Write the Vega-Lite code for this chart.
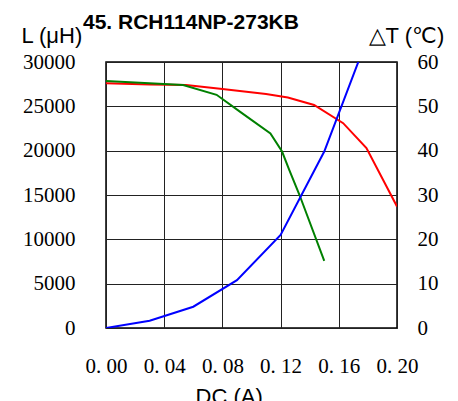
{
  "$schema": "https://vega.github.io/schema/vega-lite/v6.json",
  "width": 291,
  "height": 266,
  "autosize": "none",
  "padding": {"left": 106, "top": 62, "right": 61, "bottom": 73},
  "background": "white",
  "config": {
    "view": {"stroke": "black", "strokeWidth": 1.5},
    "axis": {
      "domain": false,
      "ticks": false,
      "grid": true,
      "gridColor": "#222222",
      "gridWidth": 1,
      "gridOpacity": 1,
      "labelFont": "Liberation Serif",
      "labelFontSize": 21,
      "labelFontWeight": "normal",
      "labelColor": "black",
      "labelOverlap": false,
      "labelFlush": false,
      "titleFont": "Liberation Sans",
      "titleFontSize": 22,
      "titleFontWeight": "normal",
      "titleColor": "black"
    }
  },
  "title": {
    "text": "45. RCH114NP-273KB",
    "font": "Liberation Sans",
    "fontSize": 21,
    "fontWeight": "bold",
    "color": "black",
    "anchor": "start",
    "frame": "group",
    "dx": -23,
    "offset": -9
  },
  "layer": [
    {
      "data": {
        "values": [
          {"dc": 0.0, "L": 27600, "series": "L1"},
          {"dc": 0.03, "L": 27450, "series": "L1"},
          {"dc": 0.055, "L": 27400, "series": "L1"},
          {"dc": 0.08, "L": 26950, "series": "L1"},
          {"dc": 0.11, "L": 26400, "series": "L1"},
          {"dc": 0.125, "L": 26000, "series": "L1"},
          {"dc": 0.143, "L": 25150, "series": "L1"},
          {"dc": 0.163, "L": 23100, "series": "L1"},
          {"dc": 0.179, "L": 20300, "series": "L1"},
          {"dc": 0.2, "L": 13700, "series": "L1"},
          {"dc": 0.0, "L": 27850, "series": "L2"},
          {"dc": 0.053, "L": 27400, "series": "L2"},
          {"dc": 0.076, "L": 26300, "series": "L2"},
          {"dc": 0.092, "L": 24400, "series": "L2"},
          {"dc": 0.113, "L": 21950, "series": "L2"},
          {"dc": 0.121, "L": 19900, "series": "L2"},
          {"dc": 0.126, "L": 17800, "series": "L2"},
          {"dc": 0.133, "L": 15000, "series": "L2"},
          {"dc": 0.15, "L": 7560, "series": "L2"}
        ]
      },
      "mark": {"type": "line", "strokeWidth": 2, "clip": true},
      "encoding": {
        "x": {
          "field": "dc", "type": "quantitative",
          "scale": {"domain": [0, 0.2], "nice": false, "zero": false},
          "axis": {
            "values": [0, 0.04, 0.08, 0.12, 0.16, 0.2],
            "labelExpr": "replace(format(datum.value, '.2f'), '.', '. ')",
            "labelFont": "Liberation Serif",
            "labelOverlap": false,
            "labelFlush": false,
            "labelPadding": 27,
            "title": "DC (A)",
            "titleAlign": "left",
            "titleBaseline": "alphabetic",
            "titleX": 89,
            "titleY": 75
          }
        },
        "y": {
          "field": "L", "type": "quantitative",
          "scale": {"domain": [0, 30000], "nice": false},
          "axis": {
            "values": [0, 5000, 10000, 15000, 20000, 25000, 30000],
            "labelExpr": "format(datum.value, 'd')",
            "labelFont": "Liberation Serif",
            "labelFontWeight": "normal",
            "labelFlush": false,
            "labelPadding": 31,
            "title": "L (μH)",
            "titleAngle": 0,
            "titleAlign": "left",
            "titleBaseline": "alphabetic",
            "titleX": -85,
            "titleY": -20
          }
        },
        "color": {
          "field": "series", "type": "nominal",
          "scale": {"domain": ["L1", "L2"], "range": ["#ff0000", "#008000"]},
          "legend": null
        }
      }
    },
    {
      "data": {
        "values": [
          {"dc": 0.0, "dT": 0},
          {"dc": 0.03, "dT": 1.65},
          {"dc": 0.06, "dT": 4.8},
          {"dc": 0.09, "dT": 10.8},
          {"dc": 0.12, "dT": 21},
          {"dc": 0.15, "dT": 39.8},
          {"dc": 0.18, "dT": 65.7}
        ]
      },
      "mark": {"type": "line", "strokeWidth": 2, "color": "#0000ff", "clip": true},
      "encoding": {
        "x": {
          "field": "dc", "type": "quantitative",
          "scale": {"domain": [0, 0.2], "nice": false, "zero": false}
        },
        "y": {
          "field": "dT", "type": "quantitative",
          "scale": {"domain": [0, 60], "nice": false},
          "axis": {
            "orient": "right",
            "values": [0, 10, 20, 30, 40, 50, 60],
            "grid": false,
            "labelFont": "Liberation Serif",
            "labelFontWeight": "normal",
            "labelFlush": false,
            "labelPadding": 20,
            "title": "△T (℃)",
            "titleAngle": 0,
            "titleAlign": "left",
            "titleBaseline": "alphabetic",
            "titleX": -29,
            "titleY": -20
          }
        }
      }
    }
  ],
  "resolve": {"scale": {"y": "independent"}}
}
